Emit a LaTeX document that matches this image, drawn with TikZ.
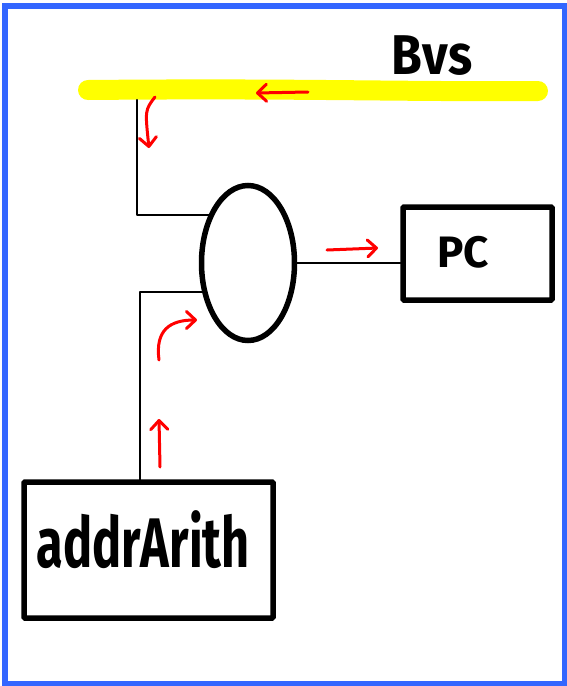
\documentclass[tikz,border=0pt]{standalone}
\usepackage{fontspec}
\setmainfont{Fira Sans}
\usetikzlibrary{arrows.meta,shapes.geometric}
\definecolor{frameblue}{HTML}{3366FF}
\definecolor{busyellow}{HTML}{FFFF00}
\definecolor{flowred}{HTML}{FF0000}
\tikzset{
  box/.style={draw=black, line width=5.5pt, rounded corners=1pt, inner sep=0pt},
  wire/.style={draw=black, line width=2.5pt, line cap=round, line join=round},
  flow/.style={draw=flowred, line width=3pt, line cap=round, line join=round,
    -{Straight Barb[length=9pt, width=17pt, line width=3pt, round]}},
  label/.style={font=\bfseries}
}
\begin{document}
\begin{tikzpicture}[x=1pt, y=-1pt]
  \useasboundingbox (0,0) rectangle (567,686);
  % outer frame
  \draw[frameblue, line width=6pt] (5,6) rectangle (564.5,683.5);

  % bus
  \coordinate (busL) at (88,90);
  \coordinate (busR) at (538,91);
  \draw[busyellow, line width=20pt, line cap=round] (busL) .. controls (300,88) and (400,92) .. (busR);
  \node[label, font=\bfseries\fontsize{50}{50}\selectfont] (bus) at (432,56) {\scalebox{1}[1.12]{Bvs}};

  % wires into the multiplexer (drawn first, the ellipse covers their ends)
  \coordinate (muxc) at (248,263);
  \coordinate (tap) at (137,100);
  \coordinate (k1) at (137,215);
  \coordinate (k2) at (140,292);
  \coordinate (aatop) at (140,482);
  \draw[wire] (tap) -- (k1) -- (k1 -| muxc);
  \draw[wire] (aatop) -- (k2) -- (k2 -| muxc);

  % multiplexer and boxes
  \node[draw=black, fill=white, line width=5.5pt, ellipse, minimum width=93pt, minimum height=155pt, inner sep=0pt] (mux) at (muxc) {};
  \node[box, minimum width=149pt, minimum height=93pt] (pc) at (477.5,253.5) {};
  \node[label, font=\bfseries\fontsize{44}{44}\selectfont] (pctext) at (463,252) {PC};
  \node[box, minimum width=249pt, minimum height=136pt] (aa) at (148.5,550) {};
  \node[label, font=\bfseries\fontsize{54}{54}\selectfont] (aatext) at (143,540) {\scalebox{0.9}[1.3]{addrArith}};

  \draw[wire] (mux.east) -- (mux.east -| pc.west);

  % data flow arrows
  \coordinate (f1a) at (308,92);  \coordinate (f1b) at (256,93);
  \draw[flow] (f1a) -- (f1b);
  \coordinate (f2a) at (155,97);  \coordinate (f2b) at (149,148);
  \draw[flow] (f2a) .. controls (145,110) .. (f2b);
  \coordinate (f3a) at (159,360); \coordinate (f3b) at (197,320);
  \draw[flow] (f3a) .. controls (155,330) and (170,320) .. (f3b);
  \coordinate (f4a) at (327,250); \coordinate (f4b) at (378,248);
  \draw[flow] (f4a) -- (f4b);
  \coordinate (f5a) at (160,467); \coordinate (f5b) at (159,419);
  \draw[flow] (f5a) -- (f5b);
\end{tikzpicture}
\end{document}
